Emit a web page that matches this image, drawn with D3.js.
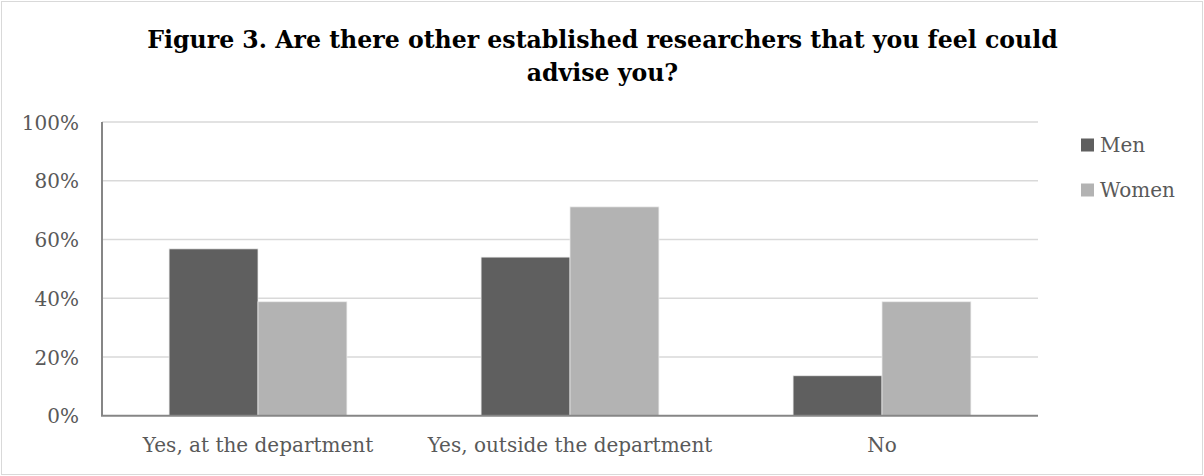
<!DOCTYPE html>
<html>
<head>
<meta charset="utf-8">
<script src="https://cdn.jsdelivr.net/npm/d3@7"></script>
<style>
  html, body { margin: 0; padding: 0; background: #fff; }
  svg { display: block; }
</style>
</head>
<body>
<svg id="chart" width="1204" height="476"></svg>
<script>
// Survey answers by gender (share of respondents)
const categories = ["Yes, at the department", "Yes, outside the department", "No"];
const seriesNames = ["Men", "Women"];
const menValues = [0.568, 0.540, 0.136];
const womenValues = [0.388, 0.711, 0.388];
const yTicks = [0, 0.2, 0.4, 0.6, 0.8, 1.0];
const titleLines = [
  "Figure 3. Are there other established researchers that you feel could",
  "advise you?"
];

const colors = { Men: "#5f5f5f", Women: "#b3b3b3" };
const rows = categories.map((c, i) => ({ category: c, Men: menValues[i], Women: womenValues[i] }));

const W = 1204, H = 476;
const plot = { left: 102, right: 1038, top: 122, bottom: 415.7 };
const svg = d3.select("#chart");
const serif = "'DejaVu Serif', serif";

// outer frame
svg.append("rect")
  .attr("x", 1.5).attr("y", 1.5)
  .attr("width", W - 3).attr("height", H - 3)
  .attr("fill", "#fff").attr("stroke", "#d9d9d9").attr("stroke-width", 1);

// title
svg.append("g").selectAll("text")
  .data(titleLines)
  .join("text")
  .attr("x", 602.5)
  .attr("y", (d, i) => 48 + i * 33)
  .attr("text-anchor", "middle")
  .attr("font-family", serif)
  .attr("font-weight", "bold")
  .attr("font-size", 23.6)
  .attr("fill", "#000")
  .text(d => d);

const y = d3.scaleLinear().domain([0, 1]).range([plot.bottom, plot.top]);
const x0 = d3.scaleBand().domain(categories).range([plot.left, plot.right])
  .paddingInner(0.43).paddingOuter(0.215);
const x1 = d3.scaleBand().domain(seriesNames).range([0, x0.bandwidth()]);

// gridlines
svg.append("g").selectAll("line")
  .data(yTicks.filter(t => t > 0))
  .join("line")
  .attr("x1", plot.left).attr("x2", plot.right)
  .attr("y1", d => y(d)).attr("y2", d => y(d))
  .attr("stroke", "#d9d9d9").attr("stroke-width", 1.5);

// y axis labels
const yAxis = d3.axisLeft(y).tickValues(yTicks).tickFormat(d3.format(".0%")).tickSize(0).tickPadding(23);
const gy = svg.append("g").attr("transform", `translate(${plot.left},0)`).call(yAxis);
gy.select(".domain").remove();
gy.selectAll("text")
  .attr("font-family", serif).attr("font-size", 20).attr("fill", "#595959")
  .attr("dy", "0.36em");

// bars
svg.append("g").selectAll("g")
  .data(rows)
  .join("g")
  .attr("transform", d => `translate(${x0(d.category)},0)`)
  .selectAll("rect")
  .data(d => seriesNames.map(s => ({ key: s, value: d[s] })))
  .join("rect")
  .attr("x", d => x1(d.key))
  .attr("width", x1.bandwidth())
  .attr("y", d => y(d.value))
  .attr("height", d => y(0) - y(d.value))
  .attr("fill", d => colors[d.key])
  .attr("stroke", "#ececec").attr("stroke-width", 0.75);

// axis lines
svg.append("line")
  .attr("x1", plot.left).attr("x2", plot.left)
  .attr("y1", plot.top).attr("y2", plot.bottom)
  .attr("stroke", "#868686").attr("stroke-width", 2);
svg.append("line")
  .attr("x1", plot.left - 1).attr("x2", plot.right)
  .attr("y1", plot.bottom).attr("y2", plot.bottom)
  .attr("stroke", "#868686").attr("stroke-width", 2);

// x axis labels
const xAxis = d3.axisBottom(x0).tickSize(0).tickPadding(0);
const gx = svg.append("g").attr("transform", `translate(0,${plot.bottom})`).call(xAxis);
gx.select(".domain").remove();
gx.selectAll("text")
  .attr("font-family", serif).attr("font-size", 20).attr("fill", "#595959")
  .attr("dy", null).attr("y", 36);

// legend
const legend = svg.append("g").selectAll("g")
  .data(seriesNames)
  .join("g")
  .attr("transform", (d, i) => `translate(1081,${152 + i * 45})`);
legend.append("rect")
  .attr("x", 0).attr("y", -13.5)
  .attr("width", 13).attr("height", 13)
  .attr("fill", d => colors[d]);
legend.append("text")
  .attr("x", 19).attr("y", 0)
  .attr("font-family", serif).attr("font-size", 20).attr("fill", "#595959")
  .text(d => d);
</script>
</body>
</html>
